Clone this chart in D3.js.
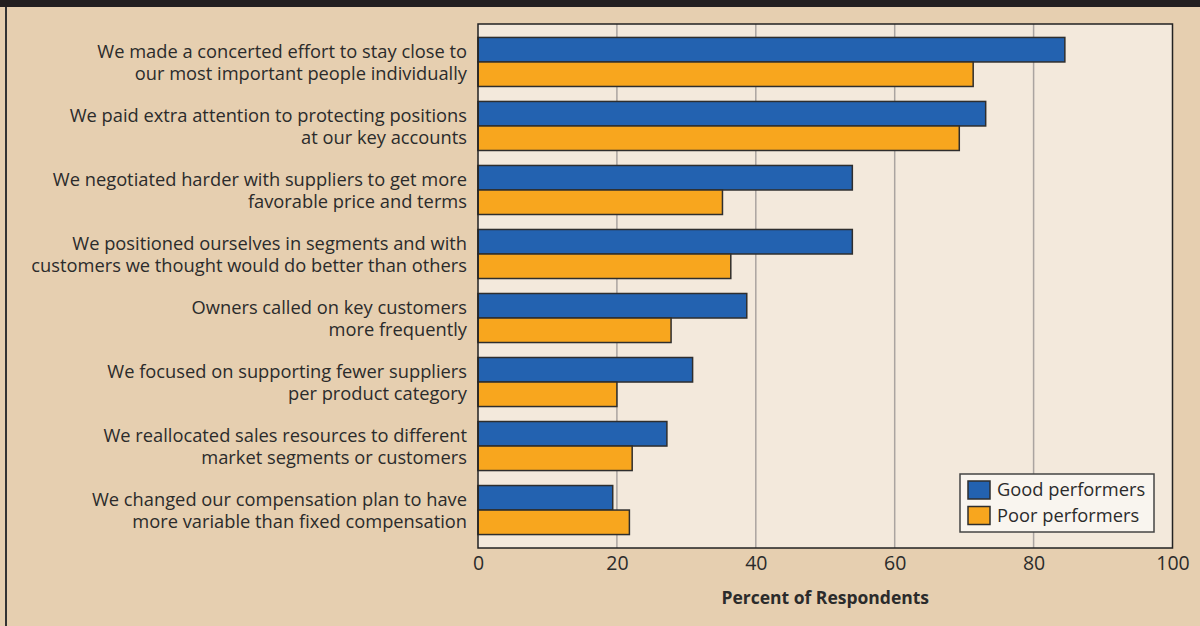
<!DOCTYPE html>
<html>
<head>
<meta charset="utf-8">
<script src="https://cdn.jsdelivr.net/npm/d3@7"></script>
<style>
  body { margin: 0; background: #e6cfb0; }
  svg { display: block; font-family: 'Open Sans', sans-serif; }
</style>
</head>
<body>
<div id="chart"></div>
<script>
// Data
var categories = [
  ['We made a concerted effort to stay close to', 'our most important people individually'],
  ['We paid extra attention to protecting positions', 'at our key accounts'],
  ['We negotiated harder with suppliers to get more', 'favorable price and terms'],
  ['We positioned ourselves in segments and with', 'customers we thought would do better than others'],
  ['Owners called on key customers', 'more frequently'],
  ['We focused on supporting fewer suppliers', 'per product category'],
  ['We reallocated sales resources to different', 'market segments or customers'],
  ['We changed our compensation plan to have', 'more variable than fixed compensation']
]
var goodValues = [84.5, 73.1, 53.9, 53.9, 38.7, 30.9, 27.2, 19.4]
var poorValues = [71.3, 69.3, 35.2, 36.4, 27.8, 20.0, 22.2, 21.8]
var seriesNames = ['Good performers', 'Poor performers']
var xTicks = [0, 20, 40, 60, 80, 100]
var axisTitle = 'Percent of Respondents'

var width = 1200
var height = 626
var plot = { left: 478, right: 1172.5, top: 24, bottom: 548 }

var colors = { good: '#2362b0', poor: '#f8a61e' }

var svg = d3
  .select('#chart')
  .append('svg')
  .attr('width', width)
  .attr('height', height)

// background frame
svg.append('rect').attr('width', width).attr('height', height).attr('fill', '#e6cfb0')
svg.append('rect').attr('width', width).attr('height', 7).attr('fill', '#231f20')
svg.append('line')
  .attr('x1', 6).attr('x2', 6).attr('y1', 7).attr('y2', height)
  .attr('stroke', '#333').attr('stroke-width', 2)

var xScale = d3.scaleLinear().domain([0, 100]).range([plot.left, plot.right])

var yScale = d3
  .scaleBand()
  .domain(d3.range(categories.length))
  .range([plot.top, plot.bottom])
  .paddingInner(0.234)
  .paddingOuter(0.21)

var subScale = d3
  .scaleBand()
  .domain(['good', 'poor'])
  .range([0, yScale.bandwidth()])

// plot area
svg.append('rect')
  .attr('x', plot.left)
  .attr('y', plot.top)
  .attr('width', plot.right - plot.left)
  .attr('height', plot.bottom - plot.top)
  .attr('fill', '#f3e9dc')

// gridlines
svg.selectAll('.grid')
  .data(xTicks.filter(d => d > 0 && d < 100))
  .enter()
  .append('line')
  .attr('class', 'grid')
  .attr('x1', d => xScale(d))
  .attr('x2', d => xScale(d))
  .attr('y1', plot.top)
  .attr('y2', plot.bottom)
  .attr('stroke', '#aaa4a0')
  .attr('stroke-width', 1.5)

// bars
var rows = categories.map((c, i) => ({ i: i, good: goodValues[i], poor: poorValues[i] }))

var groups = svg.selectAll('.row')
  .data(rows)
  .enter()
  .append('g')
  .attr('class', 'row')
  .attr('transform', d => `translate(0,${yScale(d.i)})`)

groups.selectAll('rect')
  .data(d => [{ key: 'good', value: d.good }, { key: 'poor', value: d.poor }])
  .enter()
  .append('rect')
  .attr('x', xScale(0))
  .attr('y', d => subScale(d.key))
  .attr('width', d => xScale(d.value) - xScale(0))
  .attr('height', subScale.bandwidth())
  .attr('fill', d => colors[d.key])
  .attr('stroke', '#2e2e2e')
  .attr('stroke-width', 1.5)

// category labels
groups.append('text')
  .attr('text-anchor', 'end')
  .attr('font-size', 18.3)
  .attr('fill', '#2b2b2b')
  .selectAll('tspan')
  .data(d => categories[d.i])
  .enter()
  .append('tspan')
  .attr('x', plot.left - 11)
  .attr('y', (d, j) => yScale.bandwidth() / 2 + (j === 0 ? -10 : 12))
  .attr('dy', '0.35em')
  .text(d => d)

// plot border
svg.append('rect')
  .attr('x', plot.left)
  .attr('y', plot.top)
  .attr('width', plot.right - plot.left)
  .attr('height', plot.bottom - plot.top)
  .attr('fill', 'none')
  .attr('stroke', '#222')
  .attr('stroke-width', 1.5)

// x axis
var xAxis = d3.axisBottom(xScale).tickValues(xTicks).tickSize(0).tickPadding(8)

svg.append('g')
  .attr('class', 'axis x-axis')
  .attr('transform', `translate(0,${plot.bottom})`)
  .call(xAxis)
  .call(g => g.select('.domain').remove())
  .selectAll('text')
  .attr('font-size', 19.5)
  .attr('font-family', "'Open Sans', sans-serif")
  .attr('fill', '#2b2b2b')

svg.append('text')
  .attr('x', (plot.left + plot.right) / 2)
  .attr('y', 604)
  .attr('text-anchor', 'middle')
  .attr('font-size', 17.5)
  .attr('font-weight', 'bold')
  .attr('fill', '#2b2b2b')
  .text(axisTitle)

// legend
var legend = svg.append('g').attr('transform', 'translate(960,474)')

legend.append('rect')
  .attr('width', 194)
  .attr('height', 58)
  .attr('fill', '#f9f5ef')
  .attr('stroke', '#444')
  .attr('stroke-width', 1.5)

var legendItems = legend.selectAll('.legend-item')
  .data(['good', 'poor'])
  .enter()
  .append('g')
  .attr('class', 'legend-item')
  .attr('transform', (d, i) => `translate(8,${7 + i * 25.5})`)

legendItems.append('rect')
  .attr('width', 22)
  .attr('height', 18)
  .attr('fill', d => colors[d])
  .attr('stroke', '#2e2e2e')
  .attr('stroke-width', 1.5)

legendItems.append('text')
  .attr('x', 29)
  .attr('y', 9)
  .attr('dy', '0.35em')
  .attr('font-size', 18.3)
  .attr('fill', '#2b2b2b')
  .text((d, i) => seriesNames[i])
</script>
</body>
</html>
